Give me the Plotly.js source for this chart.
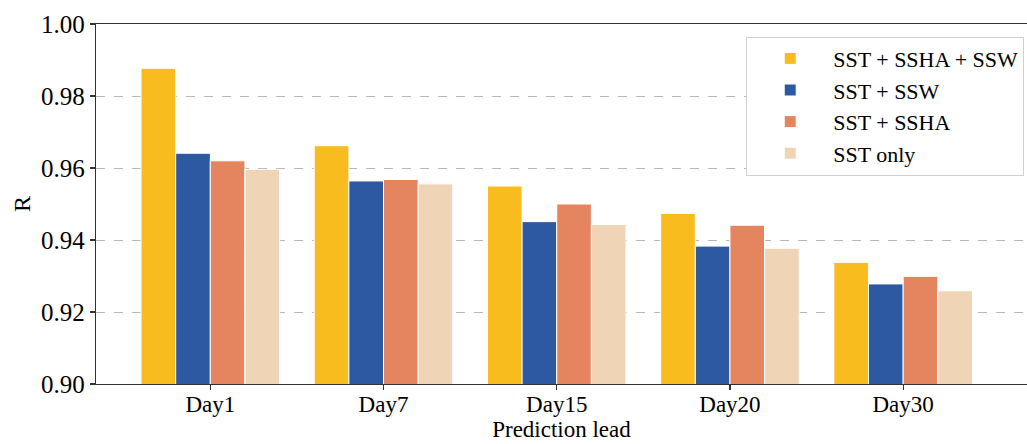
<!DOCTYPE html>
<html>
<head>
<meta charset="utf-8">
<script src="https://cdn.plot.ly/plotly-3.0.1.min.js"></script>
<style>html,body{margin:0;padding:0;background:#fff;}#chart{width:1027px;height:444px;}</style>
</head>
<body>
<div id="chart"></div>
<script>
const categories = ["Day1", "Day7", "Day15", "Day20", "Day30"];
const seriesNames = ["SST + SSHA + SSW", "SST + SSW", "SST + SSHA", "SST only"];
const sstSshaSsw = [0.9877, 0.9662, 0.9550, 0.9474, 0.9338];
const sstSsw     = [0.9641, 0.9564, 0.9451, 0.9383, 0.9278];
const sstSsha    = [0.9620, 0.9568, 0.9500, 0.9441, 0.9299];
const sstOnly    = [0.9596, 0.9556, 0.9443, 0.9377, 0.9259];
const yTicks = [0.90, 0.92, 0.94, 0.96, 0.98, 1.00];
const yTickText = ["0.90", "0.92", "0.94", "0.96", "0.98", "1.00"];

const colors = ["#F8BC1F", "#2D58A2", "#E5855F", "#EFD5B5"];
const values = [sstSshaSsw, sstSsw, sstSsha, sstOnly];
const FONT = "Liberation Serif, Times New Roman, serif";

const traces = values.map((v, i) => ({
  type: "bar",
  name: seriesNames[i],
  x: categories,
  y: v,
  marker: {color: colors[i], line: {color: "#ffffff", width: 1}},
  hoverinfo: "x+y+name"
}));

const layout = {
  width: 1027, height: 444,
  margin: {l: 96, r: 0, t: 24, b: 60, pad: 0},
  paper_bgcolor: "#fff", plot_bgcolor: "#fff",
  barmode: "group", bargap: 0.2, bargroupgap: 0,
  font: {family: FONT, size: 23, color: "#000"},
  showlegend: true,
  legend: {
    x: 0.997, xanchor: "right", y: 0.965, yanchor: "top",
    bgcolor: "#fff", bordercolor: "#d0d0d0", borderwidth: 1,
    font: {family: FONT, size: 22, color: "#000"},
    itemwidth: 76,
    traceorder: "normal"
  },
  xaxis: {
    type: "category",
    range: [-0.66, 4.715],
    showline: true, linecolor: "#333", linewidth: 1.2, mirror: true,
    ticks: "outside", ticklen: 5, tickwidth: 1.2, tickcolor: "#333",
    ticklabelstandoff: -6,
    showgrid: false, zeroline: false,
    tickfont: {family: FONT, size: 23, color: "#000"},
    title: {text: "Prediction lead", font: {family: FONT, size: 23, color: "#000"}, standoff: 2}
  },
  yaxis: {
    range: [0.90, 1.00],
    tickvals: yTicks, ticktext: yTickText,
    showline: true, linecolor: "#333", linewidth: 1.2, mirror: true,
    ticks: "outside", ticklen: 5, tickwidth: 1.2, tickcolor: "#333",
    showgrid: true, gridcolor: "#b8b8b8", griddash: "dash", gridwidth: 1,
    zeroline: false,
    tickfont: {family: FONT, size: 25, color: "#000"},
    title: {text: "R", font: {family: FONT, size: 24, color: "#000"}, standoff: 3}
  }
};

Plotly.newPlot("chart", traces, layout, {displayModeBar: false, staticPlot: true});
</script>
</body>
</html>
